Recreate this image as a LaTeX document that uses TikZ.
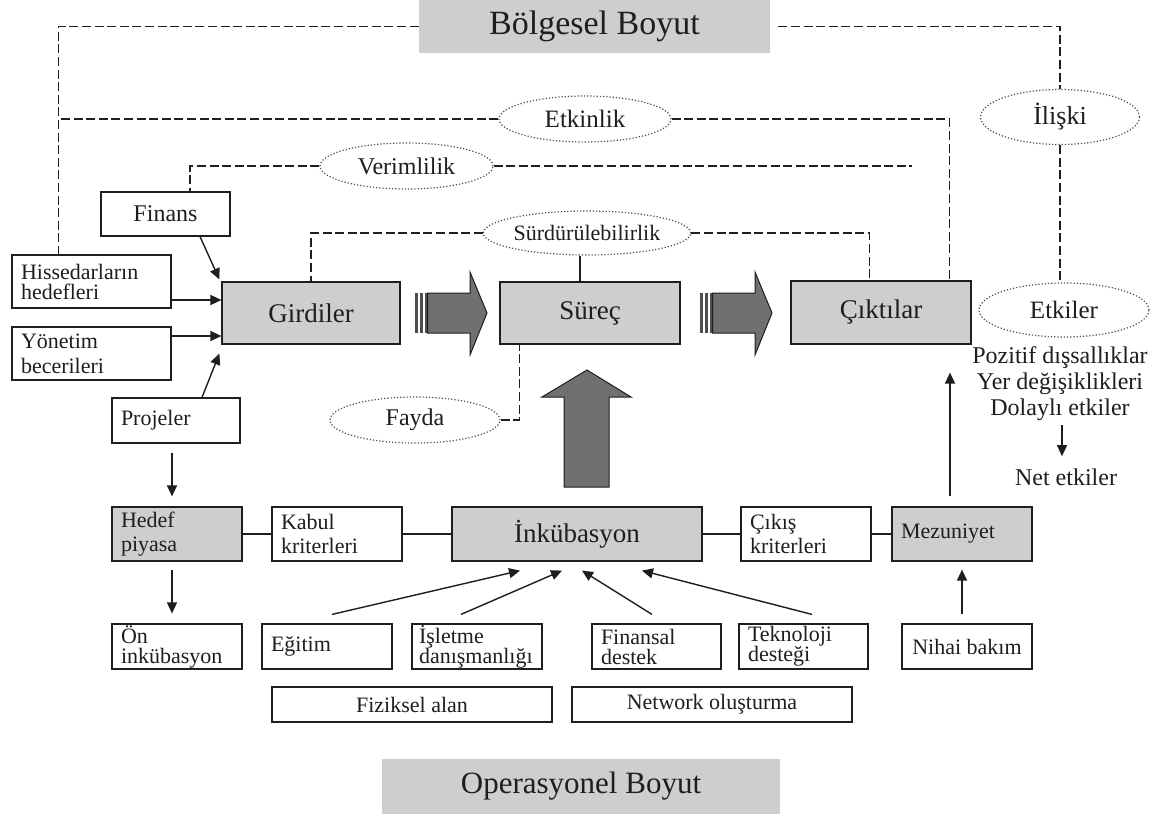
\documentclass[tikz,border=0pt]{standalone}
\usepackage{fontspec}
\setmainfont{Liberation Serif}
\usetikzlibrary{shapes.geometric,arrows.meta,calc}
\definecolor{boxgray}{RGB}{206,206,206}
\definecolor{arrowgray}{RGB}{112,112,112}
\definecolor{inkc}{RGB}{30,30,30}
\hyphenpenalty=10000
\exhyphenpenalty=10000

\begin{document}
\begin{tikzpicture}[x=0.5pt,y=-0.5pt,
  fs/.style args={#1/#2}{font=\fontsize{#1pt}{#2pt}\selectfont},
  base/.style={draw=inkc, line width=0.6pt, inner xsep=4.5pt, inner ysep=0pt, text=inkc},
  wbox/.style={base, fill=white},
  gbox/.style={base, fill=boxgray},
  band/.style={fill=boxgray, inner sep=0pt, text=inkc},
  oval/.style={ellipse, draw=black!70, densely dotted, line width=0.6pt, inner sep=0pt, text=inkc},
  dl/.style={draw=inkc, line width=0.6pt, dash pattern=on 4.5pt off 1.8pt},
  sl/.style={draw=inkc, line width=0.6pt},
  arr/.style={draw=inkc, line width=0.7pt, -{Triangle[length=5.5pt,width=5pt]}},
  blk/.style={fill=arrowgray, draw=inkc, line width=0.5pt},
  stripe/.style={fill=arrowgray!70!black}
]
\fill[white] (0,0) rectangle (1152,814);
\useasboundingbox (0,0) rectangle (1152,814);

% --- dimension bands ---
\node[band, minimum width=175.5pt, minimum height=26.5pt, fs=17/17] (bolg) at (594.5,26.5) {Bölgesel Boyut};
\node[band, minimum width=199pt, minimum height=27.5pt, fs=15.5/15.5] (oper) at (581,786.5) {Operasyonel Boyut};

% --- evaluation criteria (ellipses) ---
\node[oval, minimum width=86pt, minimum height=23pt, fs=12.5/12.5] (etkinlik) at (585,119) {Etkinlik};
\node[oval, minimum width=86.5pt, minimum height=23pt, fs=12/12] (verim) at (406.5,166) {Verimlilik};
\node[oval, minimum width=85.5pt, minimum height=22pt, fs=11/11] (surd) at (587,233) {Sürdürülebilirlik};
\node[oval, minimum width=79.5pt, minimum height=27.5pt, fs=13/13] (iliski) at (1060,117) {İlişki};
\node[oval, minimum width=85pt, minimum height=27pt, fs=12.5/12.5] (etkiler) at (1064,310) {Etkiler};
\node[oval, minimum width=85pt, minimum height=23pt, fs=12/12] (fayda) at (415,420) {Fayda};

% --- impacts ---
\node[text=inkc, align=center, inner sep=0pt, fs=12/13] (etk) at (1060,384) {Pozitif dışsallıklar\\Yer değişiklikleri\\Dolaylı etkiler};
\node[text=inkc, inner sep=0pt, fs=12/12] (net) at (1066,477) {Net etkiler};

% --- main process ---
\node[gbox, minimum width=89pt, minimum height=31pt, fs=13.5/13.5] (gird) at (311,313) {Girdiler};
\node[gbox, minimum width=90pt, minimum height=31pt, fs=13.5/13.5] (surec) at (590,313) {Süreç};
\node[gbox, minimum width=90pt, minimum height=31.5pt, fs=13.5/13.5] (cikti) at (881,312.5) {Çıktılar};

% --- inputs ---
\node[wbox, minimum width=64.5pt, minimum height=22pt, fs=12/12] (finans) at (165.5,214) {Finans};
\node[wbox, minimum width=79.5pt, minimum height=26.5pt, text width=70.5pt, align=left, fs=11/10] (hiss) at (91.5,281.5) {Hissedarların\\hedefleri};
\node[wbox, minimum width=79.5pt, minimum height=26.5pt, text width=70.5pt, align=left, fs=11/12.5] (yonet) at (91.5,353.5) {Yönetim\\becerileri};
\node[wbox, minimum width=64pt, minimum height=22.5pt, text width=55pt, align=left, fs=11/11] (proj) at (176,420.5) {Projeler};

% --- incubation row ---
\node[gbox, minimum width=65pt, minimum height=27pt, text width=56pt, align=left, fs=11/12] (hedef) at (177,534) {Hedef\\piyasa};
\node[wbox, minimum width=65pt, minimum height=27pt, text width=56pt, align=left, fs=11/12] (kabul) at (337,534) {Kabul\\kriterleri};
\node[gbox, minimum width=125pt, minimum height=27pt, fs=13.5/13.5] (ink) at (577,534) {İnkübasyon};
\node[wbox, minimum width=65pt, minimum height=27pt, text width=56pt, align=left, fs=11/12] (cikis) at (806,534) {Çıkış\\kriterleri};
\node[gbox, minimum width=70pt, minimum height=27pt, text width=61pt, align=left, fs=11/11] (mezun) at (962,534) {Mezuniyet};

% --- services ---
\node[wbox, minimum width=65pt, minimum height=22.5pt, text width=56pt, align=left, fs=11/10] (onink) at (177,646.5) {Ön\\inkübasyon};
\node[wbox, minimum width=65pt, minimum height=22.5pt, text width=56pt, align=left, fs=11/11] (egitim) at (327,646.5) {Eğitim};
\node[wbox, inner xsep=3.5pt, minimum width=65pt, minimum height=22.5pt, text width=58pt, align=left, fs=11/10] (islet) at (477,646.5) {İşletme\\danışmanlığı};
\node[wbox, minimum width=64.5pt, minimum height=22.5pt, text width=55.5pt, align=left, fs=11/10] (finsl) at (656.5,646.5) {Finansal\\destek};
\node[wbox, minimum width=64.5pt, minimum height=22.5pt, text width=55.5pt, align=left, fs=11/10] (tekno) at (803.5,646.5) {Teknoloji\\desteği};
\node[wbox, minimum width=65pt, minimum height=22.5pt, fs=11/11] (nihai) at (967,646.5) {Nihai bakım};
\node[wbox, minimum width=140pt, minimum height=17.5pt, fs=11/11] (fizik) at (412,704.5) {Fiziksel alan};
\node[wbox, minimum width=140pt, minimum height=17.5pt, fs=11/11] (netw) at (712,704.5) {Network oluşturma};

% --- dashed relations ---
\coordinate (lv) at ($(hiss.north west)+(47,0)$);
\coordinate (vend) at (912,166);
\coordinate (sx) at ($(surd.south)+(-7,0)$);
\draw[dl] (bolg.west) -| (lv);
\draw[dl] (etkinlik.west) -- (etkinlik.west -| lv);
\draw[dl] (etkinlik.east) -| ($(cikti.north west)+(159,0)$);
\draw[dl] (verim.west) -| ($(finans.north)+(24.5,0)$);
\draw[dl] (verim.east) -- (vend);
\draw[dl] (surd.west) -| (gird.north);
\draw[dl] (surd.east) -| ($(cikti.north west)+(79,0)$);
\draw[sl] (sx) -- (sx |- surec.north);
\draw[dl] (fayda.east) -| ($(surec.south west)+(20,0)$);
\draw[dl, shorten <=4pt] (bolg.east) -| (iliski.north);
\draw[dl] (iliski.south) -- (iliski.south |- etkiler.north);

% --- input arrows ---
\draw[arr] ($(hiss.east)+(0,18.5)$) -- ($(gird.west)+(0,-13)$);
\draw[arr] ($(yonet.east)+(0,-17.5)$) -- ($(gird.west)+(0,23)$);
\draw[arr] ($(finans.south)+(34.5,0)$) -- ($(gird.north west)+(-2,-2)$);
\draw[arr] ($(proj.north)+(26,0)$) -- ($(gird.south west)+(-2,9)$);
\draw[arr] ($(proj.south)+(-4,9)$) -- ($(hedef.north)+(-5,-10)$);
\draw[arr] ($(hedef.south)+(-5,8)$) -- ($(onink.north)+(-5,-10)$);

% --- incubation chain ---
\draw[sl] (hedef.east) -- (kabul.west);
\draw[sl] (kabul.east) -- (ink.west);
\draw[sl] (ink.east) -- (cikis.west);
\draw[sl] (cikis.east) -- (mezun.west);
\draw[arr] ($(egitim.north)+(5,-9)$) -- ($(ink.south)+(-57,9)$);
\draw[arr] ($(islet.north)+(-16,-9)$) -- ($(ink.south)+(-15,9)$);
\draw[arr] ($(finsl.north)+(-4.5,-9)$) -- ($(ink.south)+(5,9)$);
\draw[arr] ($(tekno.north)+(8.5,-9)$) -- ($(ink.south)+(65,9)$);
\draw[arr] ($(nihai.north)+(-5,-9)$) -- ($(mezun.south)+(0,8)$);
\draw[arr] ($(mezun.north)+(-12,-10)$) -- ($(cikti.south)+(69,28)$);
\draw[arr] ($(etk.south)+(2,4)$) -- ($(net.north)+(-4,-12)$);

% --- block arrows ---
\foreach \dx in {0,285}{
  \begin{scope}[xshift=\dx*0.5pt]
    \fill[stripe] (415,293) rectangle (417.5,333);
    \fill[stripe] (420,293) rectangle (422.5,333);
    \fill[stripe] (425,293) rectangle (427.5,333);
    \filldraw[blk] (427.5,293) -- (470,293) -- (470,272) -- (487,313) -- (470,355) -- (470,333) -- (427.5,333) -- cycle;
  \end{scope}
}
\filldraw[blk] (564,487) -- (564,397) -- (542,397) -- (587,370) -- (631,397) -- (609,397) -- (609,487) -- cycle;
\end{tikzpicture}
\end{document}
